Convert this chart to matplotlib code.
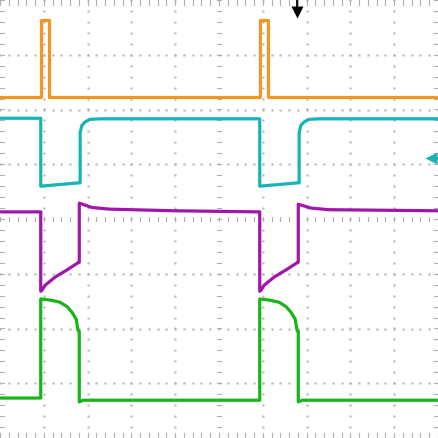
import numpy as np
import matplotlib
matplotlib.use("Agg")
import matplotlib.pyplot as plt

# ---- data (screen divisions: x 0..10, y -4..4) ----
t_orange = [0, 0.93, 0.93, 1.12, 1.12, 5.93, 5.93, 6.11, 6.11, 10]
v_orange = [2.23, 2.23, 3.63, 3.63, 2.23, 2.23, 3.63, 3.63, 2.23, 2.23]

t_cyan = [0, 0.93, 0.93, 1.80, 1.83, 1.83, 1.87, 1.94, 2.05, 2.3,
          5.93, 5.93, 6.80, 6.83, 6.83, 6.87, 6.94, 7.05, 7.3, 10]
v_cyan = [1.84, 1.84, 0.60, 0.66, 0.66, 1.58, 1.71, 1.77, 1.82, 1.83,
          1.83, 0.60, 0.66, 0.66, 1.58, 1.71, 1.77, 1.82, 1.83, 1.83]

t_purple = [0, 0.93, 0.93, 0.96, 1.03, 1.26, 1.53, 1.80, 1.81, 1.81, 2.1, 2.5, 4.0,
            5.93, 5.93, 5.96, 6.03, 6.26, 6.53, 6.80, 6.81, 6.81, 7.1, 7.5, 10]
v_purple = [0.13, 0.13, -1.32, -1.30, -1.21, -1.06, -0.93, -0.79, -0.79, 0.29, 0.21, 0.18, 0.15,
            0.13, -1.32, -1.30, -1.21, -1.06, -0.93, -0.79, -0.79, 0.27, 0.20, 0.17, 0.15]

t_green = [0, 0.93, 0.93, 1.14, 1.37, 1.53, 1.64, 1.74, 1.78, 1.80, 1.81, 1.81, 1.9,
           5.93, 5.93, 6.14, 6.37, 6.53, 6.64, 6.74, 6.78, 6.80, 6.81, 6.81, 6.9, 10]
v_green = [-3.27, -3.27, -1.46, -1.48, -1.52, -1.60, -1.70, -1.83, -2.03, -2.05, -2.05, -3.34, -3.31,
           -3.31, -1.46, -1.48, -1.52, -1.60, -1.70, -1.83, -2.03, -2.05, -2.05, -3.34, -3.31, -3.31]

trigger_x = 6.78
cyan_ref_y = 1.11

colors = {"orange": "#F5961E", "cyan": "#16B4B4", "purple": "#A016AC", "green": "#18B418"}

fig = plt.figure(figsize=(4.38, 4.38), dpi=100)
ax = fig.add_axes([0, 0, 1, 1])
ax.set_xlim(0, 10)
ax.set_ylim(-4, 4)
ax.axis("off")

gc = "#b0b0b0"
# dotted grid
minor_x = np.arange(0, 10.001, 0.2)
minor_y = np.arange(-4, 4.001, 0.2)
for gx in range(1, 10):
    if gx == 5:
        continue
    ax.plot([gx] * len(minor_y), minor_y, ls="none", marker="s", ms=1.5, color=gc, mec="none")
for gy in range(-3, 4):
    if gy == 0:
        continue
    ax.plot(minor_x, [gy] * len(minor_x), ls="none", marker="s", ms=1.5, color=gc, mec="none")
# center ticks
tx = 0.05
ty = 0.045
for mx in minor_x:
    ax.plot([mx, mx], [-ty, ty], color=gc, lw=0.8)
    ax.plot([mx, mx], [4 - 2 * ty, 4], color=gc, lw=0.8)
    ax.plot([mx, mx], [-4, -4 + 2 * ty], color=gc, lw=0.8)
for my in minor_y:
    ax.plot([5 - tx, 5 + tx], [my, my], color=gc, lw=0.8)
    ax.plot([0, 2 * tx], [my, my], color=gc, lw=0.8)
    ax.plot([10 - 2 * tx, 10], [my, my], color=gc, lw=0.8)

lw = 2.3
ax.plot(t_orange, v_orange, color=colors["orange"], lw=lw)
ax.plot(t_cyan, v_cyan, color=colors["cyan"], lw=lw)
ax.plot(t_purple, v_purple, color=colors["purple"], lw=lw)
ax.plot(t_green, v_green, color=colors["green"], lw=lw)

# trigger marker
ax.plot([trigger_x, trigger_x], [4, 3.8], color="black", lw=1.3)
ax.plot([trigger_x], [3.78], marker="v", ms=8, color="black", mec="none")
# cyan ground marker
ax.plot([9.88, 10], [cyan_ref_y, cyan_ref_y], color=colors["cyan"], lw=2.5)
ax.plot([9.84], [cyan_ref_y], marker="<", ms=9, color=colors["cyan"], mec="none")

fig.savefig("out.png", dpi=100)
